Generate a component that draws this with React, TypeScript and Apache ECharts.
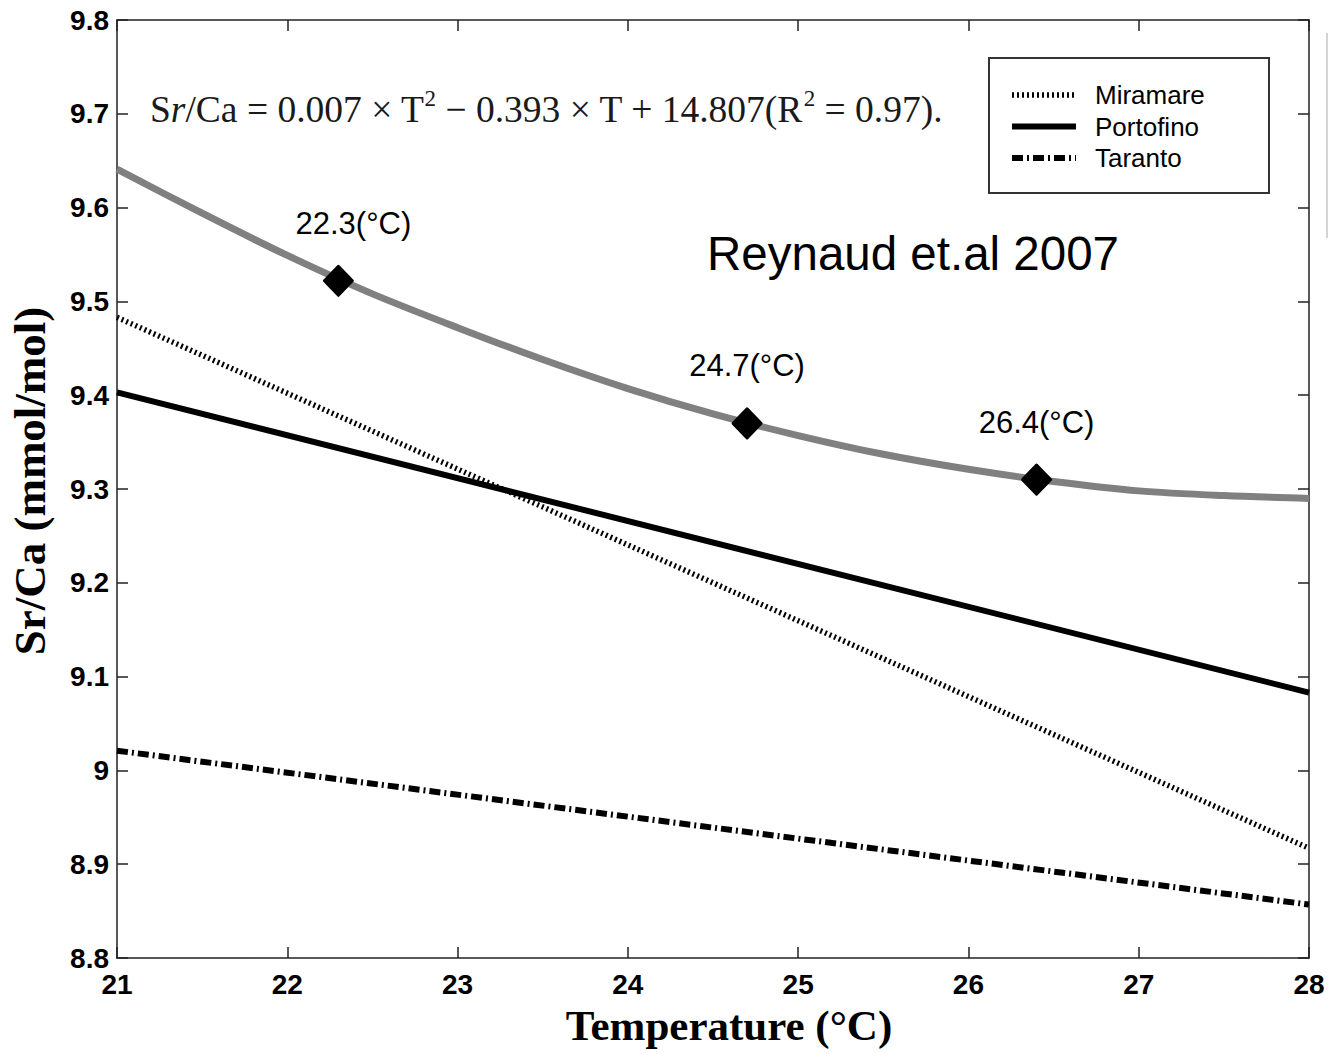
import { useEffect, useRef } from 'react';
import * as echarts from 'echarts';

// Temperature axis (°C) and Sr/Ca axis (mmol/mol) ranges
const tempRange = [21, 28];
const srcaRange = [8.8, 9.8];

// Calibration lines from the three Mediterranean sites: [T, Sr/Ca]
const miramare = [[21, 9.483], [28, 8.917]];
const portofino = [[21, 9.403], [28, 9.083]];
const taranto = [[21, 9.021], [28, 8.857]];

// Quadratic fit curve, sampled
const fitTemp = [21, 21.5, 22, 22.5, 23, 23.5, 24, 24.5, 25, 25.5, 26, 26.5, 27, 27.5, 28];
const fitSrCa = [9.641, 9.594, 9.549, 9.508, 9.472, 9.438, 9.407, 9.38, 9.357, 9.337, 9.321, 9.308, 9.298, 9.293, 9.29];

// Highlighted temperatures on the fit
const sampleTemp = [22.3, 24.7, 26.4];
const sampleSrCa = [9.522, 9.37, 9.31];

const SANS = '"Liberation Sans", Arial, sans-serif';
const SERIF = '"Liberation Serif", "Times New Roman", serif';

export default function App() {
  const ref = useRef<HTMLDivElement>(null);

  useEffect(() => {
    const chart = echarts.init(ref.current!, undefined, { renderer: 'svg' });

    const frame = { show: true, onZero: false, lineStyle: { color: '#222', width: 1.5 } };
    const tick = { show: true, inside: true, length: 11, lineStyle: { color: '#222', width: 1.5 } };
    const tickLabel = { color: '#000', fontFamily: SANS, fontWeight: 'bold' as const, fontSize: 28 };

    chart.setOption({
      animation: false,
      backgroundColor: '#fff',
      grid: { left: 117, right: 19, top: 20, bottom: 96, containLabel: false },
      xAxis: [
        {
          type: 'value', position: 'bottom', min: tempRange[0], max: tempRange[1], interval: 1,
          axisLine: frame, axisTick: tick, splitLine: { show: false },
          axisLabel: { ...tickLabel, margin: 12 },
        },
        {
          type: 'value', position: 'top', min: tempRange[0], max: tempRange[1], interval: 1,
          axisLine: frame, axisTick: tick, splitLine: { show: false }, axisLabel: { show: false },
        },
      ],
      yAxis: [
        {
          type: 'value', position: 'left', min: srcaRange[0], max: srcaRange[1], interval: 0.1,
          axisLine: frame, axisTick: tick, splitLine: { show: false },
          axisLabel: { ...tickLabel, margin: 8, formatter: (v: number) => String(+v.toFixed(1)) },
        },
        {
          type: 'value', position: 'right', min: srcaRange[0], max: srcaRange[1], interval: 0.1,
          axisLine: frame, axisTick: tick, splitLine: { show: false }, axisLabel: { show: false },
        },
      ],
      legend: {
        data: ['Miramare', 'Portofino', 'Taranto'],
        orient: 'vertical',
        left: 1009,
        top: 82,
        padding: 0,
        itemWidth: 64,
        itemHeight: 16,
        itemGap: 5.5,
        itemStyle: { color: 'rgba(0,0,0,0)', borderWidth: 0, opacity: 0 },
        lineStyle: { width: 'inherit' },
        textStyle: { fontFamily: SANS, fontSize: 26, color: '#000', lineHeight: 26, padding: [0, 0, 0, 14] },
      },
      series: [
        {
          name: 'Miramare', type: 'line', data: miramare, symbol: 'none',
          lineStyle: { color: '#000', width: 5.5, type: [2, 3] },
          itemStyle: { color: '#000' },
        },
        {
          name: 'Portofino', type: 'line', data: portofino, symbol: 'none',
          lineStyle: { color: '#000', width: 6 },
          itemStyle: { color: '#000' },
        },
        {
          name: 'Taranto', type: 'line', data: taranto, symbol: 'none',
          lineStyle: { color: '#000', width: 6, type: [11, 4, 2, 4] },
          itemStyle: { color: '#000' },
        },
        {
          name: 'fit', type: 'line', symbol: 'none', smooth: 0.3,
          data: fitTemp.map((t, i) => [t, fitSrCa[i]]),
          lineStyle: { color: '#808080', width: 7 },
        },
        {
          name: 'samples', type: 'scatter', symbol: 'diamond', symbolSize: [28, 29],
          itemStyle: { color: '#000', opacity: 1, borderColor: '#000', borderWidth: 3, borderJoin: 'round' },
          data: sampleTemp.map((t, i) => ({
            value: [t, sampleSrCa[i]],
            label: { offset: i === 0 ? [15, 0] : [0, 0] },
          })),
          label: {
            show: true, position: 'top', distance: 26,
            fontFamily: SANS, fontSize: 31, color: '#000', opacity: 1,
            formatter: (p: any) => `${p.value[0]}(°C)`,
          },
          z: 5,
        },
      ],
      graphic: [
        {
          type: 'rect', shape: { x: 989, y: 58, width: 280, height: 135 },
          style: { fill: 'rgba(0,0,0,0)', stroke: '#333', lineWidth: 2 },
        },
        {
          type: 'text', x: 150, y: 109,
          style: {
            text: '{a|S}{i|r}{a|/Ca = 0.007 × T}{s|2}{a| − 0.393 × T + 14.807(R}{s|2}{a| = 0.97).}',
            verticalAlign: 'middle',
            rich: {
              a: { fontFamily: SERIF, fontSize: 37.5, fill: '#1a1a1a', lineHeight: 44 },
              i: { fontFamily: SERIF, fontSize: 37.5, fontStyle: 'italic', fill: '#1a1a1a', lineHeight: 44 },
              s: { fontFamily: SERIF, fontSize: 23, fill: '#1a1a1a', lineHeight: 44, verticalAlign: 'top', padding: [0, 0, 14, 0] },
            },
          },
        },
        {
          type: 'text', x: 707, y: 253,
          style: { text: 'Reynaud et.al 2007', fontFamily: SANS, fontSize: 47.5, fill: '#000', verticalAlign: 'middle' },
        },
        {
          type: 'text', x: 729, y: 1025,
          style: {
            text: 'Temperature (°C)', fontFamily: SERIF, fontWeight: 'bold', fontSize: 43,
            fill: '#000', align: 'center', verticalAlign: 'middle',
          },
        },
        {
          type: 'text', x: 30, y: 481, rotation: Math.PI / 2,
          style: {
            text: 'Sr/Ca (mmol/mol)', fontFamily: SERIF, fontWeight: 'bold', fontSize: 45,
            fill: '#000', align: 'center', verticalAlign: 'middle',
          },
        },
        {
          type: 'line', shape: { x1: 1327, y1: 33, x2: 1327, y2: 238 },
          style: { stroke: '#d4d4d4', lineWidth: 2 },
        },
      ],
    });

    return () => chart.dispose();
  }, []);

  return (
    <div
      ref={ref}
      style={{ position: 'absolute', left: 0, top: 0, width: 1328, height: 1054, background: '#fff' }}
    />
  );
}
